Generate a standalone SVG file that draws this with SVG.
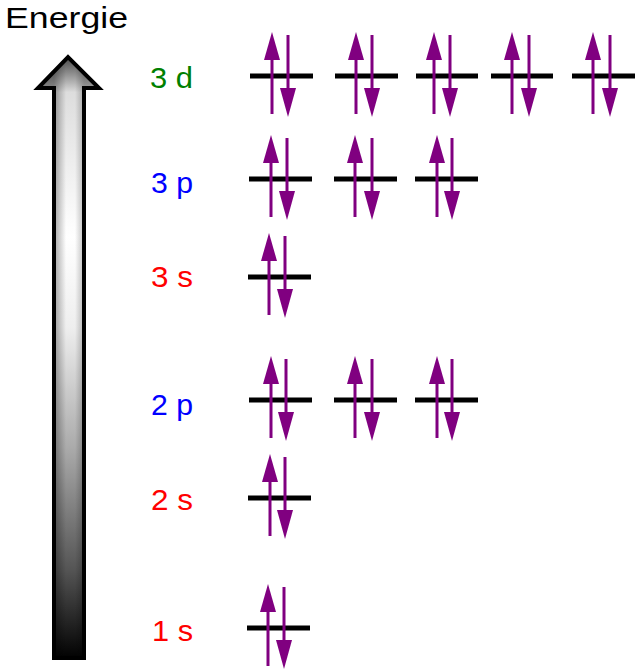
<svg xmlns="http://www.w3.org/2000/svg" xmlns:xlink="http://www.w3.org/1999/xlink" width="635" height="671" viewBox="0 0 635 671">
<style>
.lbl{font-family:"Liberation Sans",Arial,sans-serif;font-size:30px}
.lvl{stroke:#000;stroke-width:5}
.sp{stroke:#800080;stroke-width:3}
.hd{fill:#800080}
</style>
<defs>
<linearGradient id="gv" gradientUnits="userSpaceOnUse" x1="0" y1="56" x2="0" y2="660">
<stop offset="0" stop-color="#444"/>
<stop offset="0.06" stop-color="#ddd"/>
<stop offset="0.3" stop-color="#fff"/>
<stop offset="0.45" stop-color="#eee"/>
<stop offset="0.65" stop-color="#aaa"/>
<stop offset="0.85" stop-color="#555"/>
<stop offset="1" stop-color="#000"/>
</linearGradient>
<linearGradient id="gh" gradientUnits="userSpaceOnUse" x1="54" y1="0" x2="84" y2="0">
<stop offset="0" stop-color="#000" stop-opacity="0.35"/>
<stop offset="0.4" stop-color="#000" stop-opacity="0"/>
<stop offset="0.7" stop-color="#000" stop-opacity="0"/>
<stop offset="1" stop-color="#000" stop-opacity="0.25"/>
</linearGradient>
<g id="up"><line class="sp" x1="0" y1="38" x2="0" y2="-18"/><path class="hd" d="M-8,-16 L0,-44 L8,-16 Z"/></g>
<g id="down"><line class="sp" x1="0" y1="-41" x2="0" y2="14"/><path class="hd" d="M-8,12 L0,41 L8,12 Z"/></g>
</defs>
<rect width="635" height="671" fill="#fff"/>
<g id="energy-axis">
<path d="M54,658 L54,88 L38,88 L68,57 L99,88 L84,88 L84,658 Z" fill="url(#gv)"/>
<path d="M54,658 L54,88 L38,88 L68,57 L99,88 L84,88 L84,658 Z" fill="url(#gh)" stroke="#000" stroke-width="4" stroke-linejoin="miter"/>
<text class="lbl" x="5" y="28" font-size="32" textLength="123" lengthAdjust="spacingAndGlyphs">Energie</text>
</g>
<g id="labels">
<text class="lbl" x="150" y="88" fill="#008000" textLength="43" lengthAdjust="spacingAndGlyphs">3 d</text>
<text class="lbl" x="151" y="193" fill="#0000ff" textLength="42" lengthAdjust="spacingAndGlyphs">3 p</text>
<text class="lbl" x="151" y="287" fill="#ff0000" textLength="42" lengthAdjust="spacingAndGlyphs">3 s</text>
<text class="lbl" x="151" y="415" fill="#0000ff" textLength="42" lengthAdjust="spacingAndGlyphs">2 p</text>
<text class="lbl" x="151" y="510" fill="#ff0000" textLength="42" lengthAdjust="spacingAndGlyphs">2 s</text>
<text class="lbl" x="152" y="641" fill="#ff0000" textLength="41" lengthAdjust="spacingAndGlyphs">1 s</text>
</g>
<g id="orb-3d">
<line class="lvl" x1="250" y1="76" x2="313" y2="76"/><use xlink:href="#up" x="272" y="76"/><use xlink:href="#down" x="288" y="76"/>
<line class="lvl" x1="335" y1="76" x2="398" y2="76"/><use xlink:href="#up" x="356" y="76"/><use xlink:href="#down" x="372" y="76"/>
<line class="lvl" x1="416" y1="76" x2="478" y2="76"/><use xlink:href="#up" x="434" y="76"/><use xlink:href="#down" x="450" y="76"/>
<line class="lvl" x1="491" y1="76" x2="553" y2="76"/><use xlink:href="#up" x="512" y="76"/><use xlink:href="#down" x="529" y="76"/>
<line class="lvl" x1="572" y1="76" x2="635" y2="76"/><use xlink:href="#up" x="593" y="76"/><use xlink:href="#down" x="610" y="76"/>
</g>
<g id="orb-3p">
<line class="lvl" x1="249" y1="179" x2="312" y2="179"/><use xlink:href="#up" x="271" y="179"/><use xlink:href="#down" x="287" y="179"/>
<line class="lvl" x1="334" y1="179" x2="397" y2="179"/><use xlink:href="#up" x="355" y="179"/><use xlink:href="#down" x="372" y="179"/>
<line class="lvl" x1="415" y1="179" x2="478" y2="179"/><use xlink:href="#up" x="437" y="179"/><use xlink:href="#down" x="452" y="179"/>
</g>
<g id="orb-3s">
<line class="lvl" x1="248" y1="277" x2="311" y2="277"/><use xlink:href="#up" x="269" y="277"/><use xlink:href="#down" x="285" y="277"/>
</g>
<g id="orb-2p">
<line class="lvl" x1="249" y1="400" x2="312" y2="400"/><use xlink:href="#up" x="271" y="400"/><use xlink:href="#down" x="286" y="400"/>
<line class="lvl" x1="334" y1="400" x2="397" y2="400"/><use xlink:href="#up" x="355" y="400"/><use xlink:href="#down" x="372" y="400"/>
<line class="lvl" x1="415" y1="400" x2="478" y2="400"/><use xlink:href="#up" x="437" y="400"/><use xlink:href="#down" x="452" y="400"/>
</g>
<g id="orb-2s">
<line class="lvl" x1="248" y1="498" x2="311" y2="498"/><use xlink:href="#up" x="270" y="498"/><use xlink:href="#down" x="285" y="498"/>
</g>
<g id="orb-1s">
<line class="lvl" x1="247" y1="628" x2="310" y2="628"/><use xlink:href="#up" x="268" y="628"/><use xlink:href="#down" x="284" y="628"/>
</g>
</svg>
